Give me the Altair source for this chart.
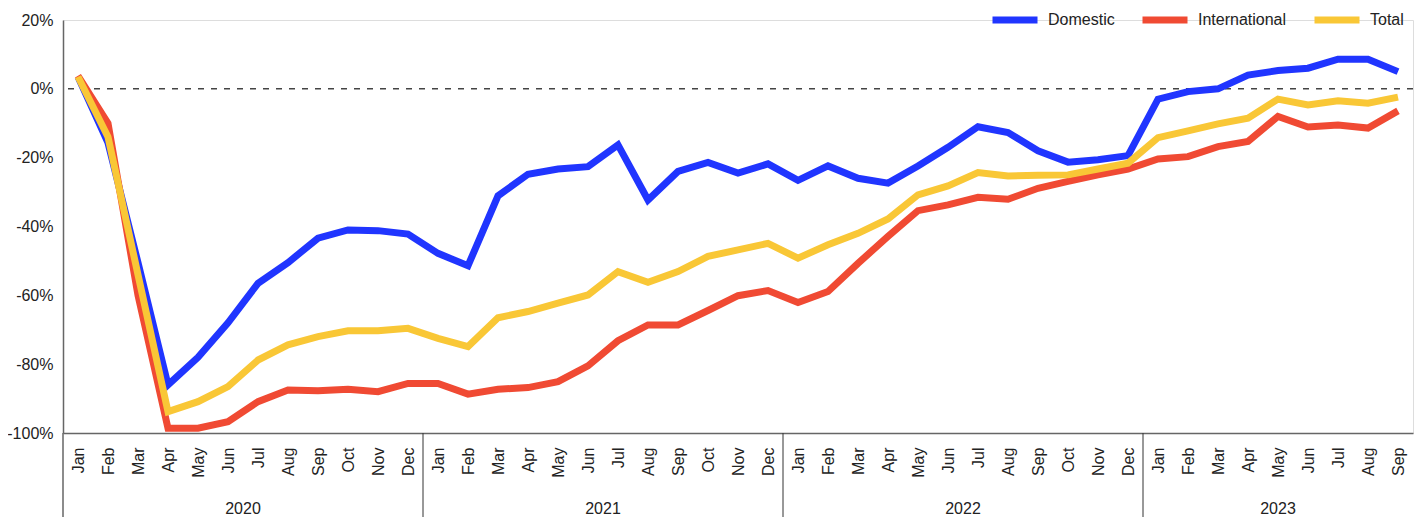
import json
import altair as alt
import pandas as pd

month_names = ["Jan", "Feb", "Mar", "Apr", "May", "Jun", "Jul", "Aug", "Sep", "Oct", "Nov", "Dec"]
years = [2020, 2021, 2022, 2023]
months_per_year = [12, 12, 12, 9]

domestic = [
    3.5, -15.7, -50.5, -86.0, -78.0, -68.0, -56.5, -50.5, -43.4, -41.0, -41.2, -42.2,
    -47.8, -51.4, -31.1, -24.8, -23.3, -22.6, -16.3, -32.3, -24.0, -21.4, -24.5, -21.8,
    -26.6, -22.4, -26.0, -27.4, -22.4, -17.0, -11.0, -12.7, -18.0, -21.3, -20.6, -19.4,
    -3.0, -0.8, 0.0, 4.0, 5.3, 6.0, 8.6, 8.6, 5.0,
]
international = [
    3.8, -10.0, -60.0, -98.6, -98.6, -96.7, -90.9, -87.5, -87.7, -87.3, -88.0, -85.6,
    -85.6, -88.7, -87.3, -86.8, -85.1, -80.5, -73.2, -68.6, -68.6, -64.4, -60.1, -58.6,
    -62.1, -58.9, -50.7, -42.9, -35.4, -33.7, -31.5, -32.1, -28.9, -26.9, -25.0, -23.3,
    -20.4, -19.7, -16.8, -15.3, -8.0, -11.1, -10.5, -11.4, -6.4,
]
total = [
    3.5, -14.0, -54.0, -93.8, -90.9, -86.5, -78.8, -74.4, -72.0, -70.3, -70.3, -69.6,
    -72.5, -74.9, -66.5, -64.7, -62.3, -59.9, -53.1, -56.2, -53.1, -48.7, -46.8, -44.9,
    -49.2, -45.3, -42.0, -37.8, -30.8, -28.2, -24.3, -25.3, -25.1, -25.0, -23.3, -21.6,
    -14.2, -12.2, -10.2, -8.5, -3.0, -4.7, -3.5, -4.2, -2.4,
]
series_names = ["Domestic", "International", "Total"]
series_colors = ["#2035FF", "#F04A33", "#F9C736"]
y_ticks = [-100, -80, -60, -40, -20, 0, 20]

# ---- build tables ----
n = len(domestic)
rows = []
for name, vals in zip(series_names, [domestic, international, total]):
    for i, v in enumerate(vals):
        rows.append({"idx": i, "series": name, "value": v})
df = pd.DataFrame(rows)

year_rows, sep_rows = [], []
start = 0
for k, (yr, cnt) in enumerate(zip(years, months_per_year)):
    year_rows.append({"idx": (start - 0.5 + start + cnt - 0.5) / 2, "year": str(yr)})
    if k > 0:
        sep_rows.append({"idx": start - 0.5})
    start += cnt
df_year = pd.DataFrame(year_rows)
df_sep = pd.DataFrame(sep_rows)

W, H = 1350, 413
x_scale = alt.Scale(domain=[-0.5, n - 0.5], nice=False, zero=False)
y_scale = alt.Scale(domain=[-100, 20], nice=False, zero=False)

label_expr = json.dumps(month_names) + "[datum.value % 12]"

x_axis = alt.Axis(
    values=list(range(n)), labelExpr=label_expr, labelAngle=-90, ticks=False, grid=False,
    domainColor="#666666", domainWidth=1.5, labelFontSize=16, labelColor="#222222",
    labelPadding=14, title=None, labelFont="Liberation Sans",
)
y_axis = alt.Axis(
    values=y_ticks, labelExpr="datum.value + '%'", ticks=False, grid=False,
    domainColor="#666666", domainWidth=1.5, labelFontSize=16, labelColor="#222222",
    labelPadding=10, title=None, labelFont="Liberation Sans",
)

zero_rule = alt.Chart(pd.DataFrame({"value": [0]})).mark_rule(
    color="#444444", strokeWidth=1.5, strokeDash=[6, 7]
).encode(y=alt.Y("value:Q", scale=y_scale, axis=y_axis))

lines = alt.Chart(df).mark_line(strokeWidth=7).encode(
    x=alt.X("idx:Q", scale=x_scale, axis=x_axis),
    y=alt.Y("value:Q", scale=y_scale, axis=y_axis),
    color=alt.Color(
        "series:N",
        scale=alt.Scale(domain=series_names, range=series_colors),
        sort=series_names,
        legend=alt.Legend(
            title=None, orient="none", legendX=926, legendY=-26, direction="horizontal",
            symbolType="stroke", symbolSize=2025, symbolStrokeWidth=7,
            labelFontSize=16, labelColor="#222222", labelOffset=7, columnPadding=13,
            padding=0, labelFont="Liberation Sans",
        ),
    ),
    order=alt.Order("idx:Q"),
)

seps = alt.Chart(df_sep).mark_rule(color="#333333", strokeWidth=1).encode(
    x=alt.X("idx:Q", scale=x_scale, axis=x_axis),
    y=alt.value(H),
    y2=alt.value(H + 84),
)

yext = alt.Chart(pd.DataFrame({"a": [0]})).mark_rule(color="#666666", strokeWidth=1.5).encode(
    x=alt.value(0), y=alt.value(H), y2=alt.value(H + 84)
)

year_text = alt.Chart(df_year).mark_text(
    fontSize=16, color="#222222", baseline="middle", align="center", font="Liberation Sans"
).encode(
    x=alt.X("idx:Q", scale=x_scale, axis=x_axis),
    y=alt.value(H + 76),
    text="year:N",
)

chart = alt.layer(zero_rule, lines, seps, yext, year_text).properties(
    width=W, height=H,
    autosize=alt.AutoSizeParams(type="none"),
    padding={"left": 55, "top": 12, "right": 2, "bottom": 84},
).configure_view(stroke=None).configure(font="Liberation Sans")

chart.save("out.html", embed_options={"renderer": "svg", "actions": False})
